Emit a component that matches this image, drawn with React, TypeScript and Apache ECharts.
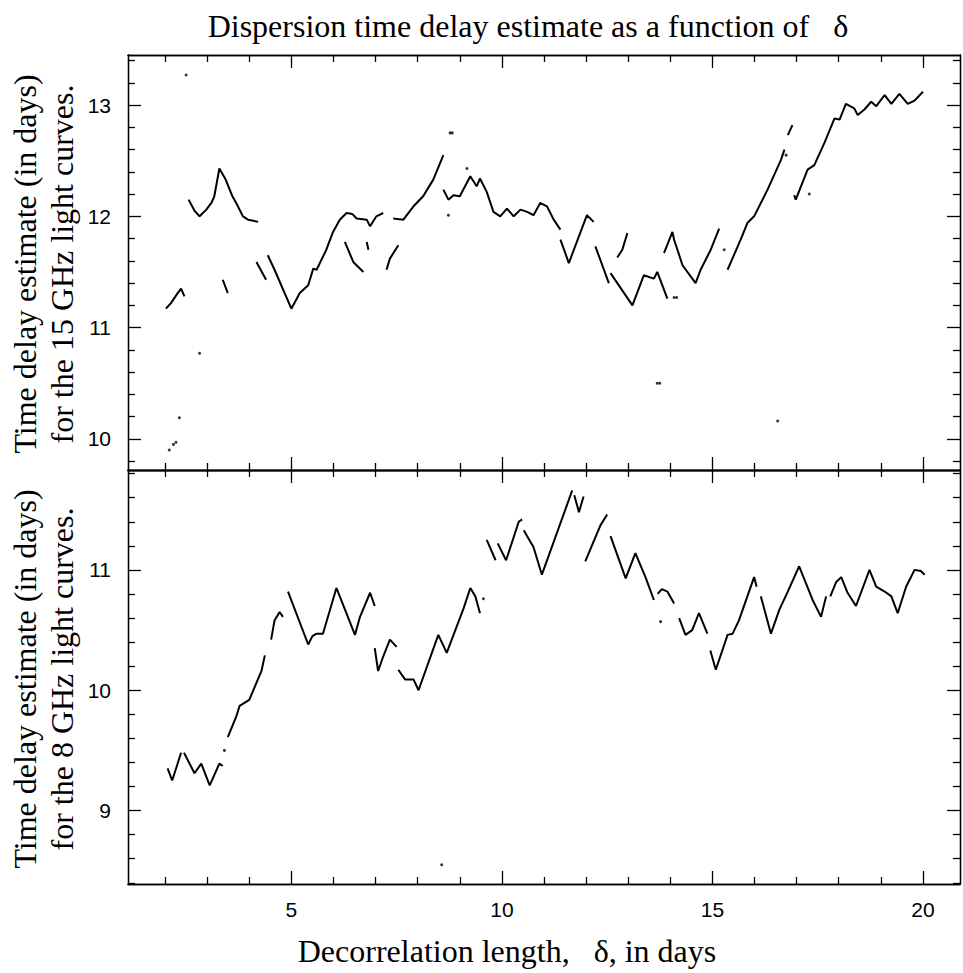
import React, { useEffect, useRef } from 'react';
import * as echarts from 'echarts';

// ---- axis tick values ----
const xTicksMajor = [5, 10, 15, 20];
const xTicksMinor = [2, 3, 4, 6, 7, 8, 9, 11, 12, 13, 14, 16, 17, 18, 19];
const yTicksMajor15 = [10, 11, 12, 13];
const yTicksMinor15 = [9.8, 10.2, 10.4, 10.6, 10.8, 11.2, 11.4, 11.6, 11.8, 12.2, 12.4, 12.6, 12.8, 13.2, 13.4];
const yTicksMajor8 = [9, 10, 11];
const yTicksMinor8 = [8.4, 8.6, 8.8, 9.2, 9.4, 9.6, 9.8, 10.2, 10.4, 10.6, 10.8, 11.2, 11.4, 11.6, 11.8];

// ---- 15 GHz: time delay estimate vs decorrelation length (connected runs) ----
const delay15Segments: number[][][] = [
  [[2.02, 11.17], [2.14, 11.22], [2.30, 11.31], [2.38, 11.35], [2.46, 11.28]],
  [[2.56, 12.15], [2.70, 12.05], [2.82, 12.0], [2.98, 12.06], [3.10, 12.12], [3.17, 12.18], [3.29, 12.43], [3.44, 12.33], [3.60, 12.18], [3.69, 12.12], [3.85, 12.0], [3.97, 11.97], [4.10, 11.96], [4.21, 11.95]],
  [[3.37, 11.43], [3.49, 11.31]],
  [[4.17, 11.59], [4.40, 11.43]],
  [[4.44, 11.65], [4.60, 11.52], [5.00, 11.17], [5.20, 11.31], [5.40, 11.38], [5.52, 11.53], [5.60, 11.52], [5.83, 11.70], [5.99, 11.86], [6.15, 11.97], [6.31, 12.03], [6.45, 12.02], [6.55, 11.98], [6.79, 11.97], [6.87, 11.91], [7.02, 12.0], [7.18, 12.03]],
  [[7.42, 11.98], [7.66, 11.97], [7.90, 12.09], [8.13, 12.18], [8.37, 12.33], [8.61, 12.55]],
  [[6.27, 11.77], [6.47, 11.59], [6.71, 11.50]],
  [[6.79, 11.77], [6.83, 11.70]],
  [[7.26, 11.52], [7.34, 11.62], [7.54, 11.74]],
  [[8.61, 12.24], [8.73, 12.15], [8.85, 12.19], [9.0, 12.18], [9.25, 12.36], [9.40, 12.27], [9.48, 12.34], [9.64, 12.22], [9.80, 12.04], [9.96, 12.0], [10.12, 12.07], [10.28, 12.0], [10.44, 12.06], [10.60, 12.04], [10.75, 12.01], [10.91, 12.12], [11.07, 12.09], [11.23, 11.97], [11.39, 11.88]],
  [[11.39, 11.79], [11.59, 11.58], [12.02, 12.01], [12.18, 11.95]],
  [[12.22, 11.73], [12.54, 11.40]],
  [[12.58, 11.49], [13.10, 11.20], [13.37, 11.47], [13.61, 11.44], [13.69, 11.50], [13.93, 11.26]],
  [[12.74, 11.63], [12.86, 11.70], [12.98, 11.85]],
  [[13.85, 11.67], [14.05, 11.86], [14.09, 11.79], [14.29, 11.56], [14.60, 11.40], [14.72, 11.52], [14.96, 11.70], [15.16, 11.89]],
  [[15.36, 11.52], [15.67, 11.79], [15.83, 11.94], [15.99, 12.0], [16.31, 12.24], [16.63, 12.51], [16.71, 12.60]],
  [[16.79, 12.73], [16.90, 12.82]],
  [[16.94, 12.19], [16.98, 12.15], [17.26, 12.42], [17.42, 12.46], [17.66, 12.66], [17.90, 12.88], [18.02, 12.87], [18.17, 13.01], [18.37, 12.97], [18.45, 12.91], [18.61, 12.96], [18.77, 13.03], [18.89, 12.99], [19.09, 13.09], [19.25, 13.01], [19.44, 13.10], [19.64, 13.01], [19.80, 13.04], [20.0, 13.12]],
];
const delay15Dots: number[][] = [
  [2.50, 13.27], [2.82, 10.77], [2.34, 10.19], [2.10, 9.90], [2.20, 9.95], [2.26, 9.97],
  [8.73, 12.01], [8.77, 12.75], [8.82, 12.75], [9.17, 12.43], [13.69, 10.50], [13.75, 10.50],
  [16.55, 10.16], [14.09, 11.27], [14.15, 11.27], [15.28, 11.70], [16.75, 12.55], [17.30, 12.20],
];

// ---- 8 GHz: time delay estimate vs decorrelation length (connected runs) ----
const delay8Segments: number[][][] = [
  [[2.06, 9.35], [2.17, 9.25], [2.38, 9.48]],
  [[2.45, 9.48], [2.70, 9.31], [2.86, 9.39], [3.06, 9.21], [3.29, 9.39], [3.37, 9.37]],
  [[3.49, 9.61], [3.69, 9.78], [3.77, 9.87], [4.0, 9.92], [4.29, 10.16], [4.37, 10.29]],
  [[4.52, 10.42], [4.60, 10.58], [4.72, 10.65], [4.80, 10.61]],
  [[4.92, 10.82], [5.40, 10.38], [5.50, 10.45], [5.60, 10.47], [5.75, 10.47], [6.07, 10.85], [6.51, 10.46], [6.63, 10.61], [6.87, 10.81], [6.98, 10.70]],
  [[6.98, 10.35], [7.06, 10.16], [7.18, 10.28], [7.34, 10.42], [7.50, 10.36]],
  [[7.54, 10.17], [7.70, 10.09], [7.90, 10.09], [8.02, 10.0], [8.49, 10.46], [8.69, 10.31], [9.09, 10.68], [9.25, 10.85], [9.37, 10.78], [9.48, 10.64]],
  [[9.64, 11.25], [9.85, 11.08]],
  [[9.90, 11.22], [10.10, 11.08], [10.40, 11.40], [10.48, 11.42]],
  [[10.52, 11.33], [10.60, 11.28], [10.75, 11.19], [10.95, 10.96], [11.67, 11.66]],
  [[11.72, 11.62], [11.83, 11.48], [11.94, 11.61]],
  [[11.98, 11.07], [12.34, 11.37], [12.50, 11.46]],
  [[12.58, 11.28], [12.94, 10.93], [13.17, 11.14], [13.41, 10.94], [13.61, 10.75]],
  [[13.70, 10.80], [13.80, 10.84], [13.93, 10.82], [14.09, 10.72]],
  [[14.21, 10.60], [14.36, 10.46], [14.52, 10.50], [14.68, 10.64], [14.88, 10.47]],
  [[14.95, 10.33], [15.08, 10.17], [15.36, 10.46], [15.48, 10.47], [15.63, 10.58], [15.99, 10.94], [16.05, 10.86]],
  [[16.15, 10.78], [16.39, 10.47], [16.59, 10.67], [16.79, 10.82], [17.06, 11.03], [17.38, 10.75], [17.58, 10.61], [17.70, 10.78]],
  [[17.80, 10.78], [17.94, 10.90], [18.06, 10.94], [18.21, 10.81], [18.41, 10.70], [18.73, 11.0], [18.89, 10.86], [19.09, 10.82], [19.25, 10.78], [19.40, 10.64], [19.60, 10.86], [19.80, 11.0], [19.95, 10.99], [20.04, 10.96]],
];
const delay8Dots: number[][] = [
  [3.41, 9.50], [9.56, 10.76], [13.77, 10.57], [8.57, 8.55],
];

const X_MIN = 1.12;
const X_MAX = 20.88;
const Y15_MIN = 9.72;
const Y15_MAX = 13.45;
const Y8_MIN = 8.39;
const Y8_MAX = 11.83;

function joinSegments(segs: number[][][]) {
  const out: any[] = [];
  segs.forEach((s, i) => {
    if (i > 0) out.push(['-', '-']);
    s.forEach((p) => out.push(p));
  });
  return out;
}

const BLACK = '#000';
const tickFont = { color: BLACK, fontFamily: 'Liberation Sans', fontSize: 21 };

function xAxisDef(gridIndex: number, position: string, ticks: number[], len: number, labels: boolean) {
  return {
    type: 'value', gridIndex, position, min: X_MIN, max: X_MAX,
    axisLine: { show: true, onZero: false, lineStyle: { color: BLACK, width: 1.3 } },
    axisTick: { show: true, inside: true, length: len, customValues: ticks, lineStyle: { color: BLACK, width: 1.3 } },
    axisLabel: labels ? { show: true, customValues: ticks, margin: 15, ...tickFont } : { show: false },
    splitLine: { show: false },
  };
}
function yAxisDef(gridIndex: number, position: string, min: number, max: number, ticks: number[], len: number, labels: boolean) {
  return {
    type: 'value', gridIndex, position, min, max,
    axisLine: { show: true, onZero: false, lineStyle: { color: BLACK, width: 1.3 } },
    axisTick: { show: true, inside: true, length: len, customValues: ticks, lineStyle: { color: BLACK, width: 1.3 } },
    axisLabel: labels ? { show: true, customValues: ticks, margin: 17, ...tickFont } : { show: false },
    splitLine: { show: false },
  };
}

export default function App() {
  const ref = useRef<HTMLDivElement>(null);
  useEffect(() => {
    if (!ref.current) return;
    const chart = echarts.init(ref.current, undefined, { renderer: 'svg' });
    const serif = 'Liberation Serif';
    const titleFont = `32px "${serif}"`;
    const option: any = {
      animation: false,
      backgroundColor: '#fff',
      grid: [
        { left: 128, right: 3, top: 55, height: 415 },
        { left: 128, right: 3, top: 470, height: 414 },
      ],
      xAxis: [
        xAxisDef(0, 'bottom', xTicksMajor, 13, false),
        xAxisDef(0, 'bottom', xTicksMinor, 7, false),
        xAxisDef(0, 'top', xTicksMajor, 13, false),
        xAxisDef(0, 'top', xTicksMinor, 7, false),
        xAxisDef(1, 'bottom', xTicksMajor, 13, true),
        xAxisDef(1, 'bottom', xTicksMinor, 7, false),
        xAxisDef(1, 'top', xTicksMajor, 13, false),
        xAxisDef(1, 'top', xTicksMinor, 7, false),
      ],
      yAxis: [
        yAxisDef(0, 'left', Y15_MIN, Y15_MAX, yTicksMajor15, 13, true),
        yAxisDef(0, 'left', Y15_MIN, Y15_MAX, yTicksMinor15, 7, false),
        yAxisDef(0, 'right', Y15_MIN, Y15_MAX, yTicksMajor15, 13, false),
        yAxisDef(0, 'right', Y15_MIN, Y15_MAX, yTicksMinor15, 7, false),
        yAxisDef(1, 'left', Y8_MIN, Y8_MAX, yTicksMajor8, 13, true),
        yAxisDef(1, 'left', Y8_MIN, Y8_MAX, yTicksMinor8, 7, false),
        yAxisDef(1, 'right', Y8_MIN, Y8_MAX, yTicksMajor8, 13, false),
        yAxisDef(1, 'right', Y8_MIN, Y8_MAX, yTicksMinor8, 7, false),
      ],
      series: [
        {
          type: 'line', xAxisIndex: 0, yAxisIndex: 0, data: joinSegments(delay15Segments),
          showSymbol: false, connectNulls: false, lineStyle: { color: BLACK, width: 2 }, silent: true,
        },
        {
          type: 'scatter', xAxisIndex: 0, yAxisIndex: 0, data: delay15Dots,
          symbolSize: 3, itemStyle: { color: BLACK }, silent: true,
        },
        {
          type: 'line', xAxisIndex: 4, yAxisIndex: 4, data: joinSegments(delay8Segments),
          showSymbol: false, connectNulls: false, lineStyle: { color: BLACK, width: 2 }, silent: true,
        },
        {
          type: 'scatter', xAxisIndex: 4, yAxisIndex: 4, data: delay8Dots,
          symbolSize: 3, itemStyle: { color: BLACK }, silent: true,
        },
      ],
      graphic: [
        {
          type: 'text', x: 528, y: 26,
          style: { text: 'Dispersion time delay estimate as a function of   δ', fill: BLACK, font: titleFont, align: 'center', verticalAlign: 'middle' },
        },
        {
          type: 'text', x: 507, y: 951,
          style: { text: 'Decorrelation length,   δ, in days', fill: BLACK, font: titleFont, align: 'center', verticalAlign: 'middle' },
        },
        {
          type: 'text', x: 25, y: 264, rotation: Math.PI / 2,
          style: { text: 'Time delay estimate (in days)', fill: BLACK, font: titleFont, align: 'center', verticalAlign: 'middle' },
        },
        {
          type: 'text', x: 62, y: 264, rotation: Math.PI / 2,
          style: { text: 'for the 15 GHz light curves.', fill: BLACK, font: titleFont, align: 'center', verticalAlign: 'middle' },
        },
        {
          type: 'text', x: 25, y: 679, rotation: Math.PI / 2,
          style: { text: 'Time delay estimate (in days)', fill: BLACK, font: titleFont, align: 'center', verticalAlign: 'middle' },
        },
        {
          type: 'text', x: 62, y: 679, rotation: Math.PI / 2,
          style: { text: 'for the 8 GHz light curves.', fill: BLACK, font: titleFont, align: 'center', verticalAlign: 'middle' },
        },
      ],
    };
    chart.setOption(option);
    return () => chart.dispose();
  }, []);
  return <div ref={ref} style={{ position: 'fixed', left: 0, top: 0, width: 963, height: 973, background: '#fff' }} />;
}
